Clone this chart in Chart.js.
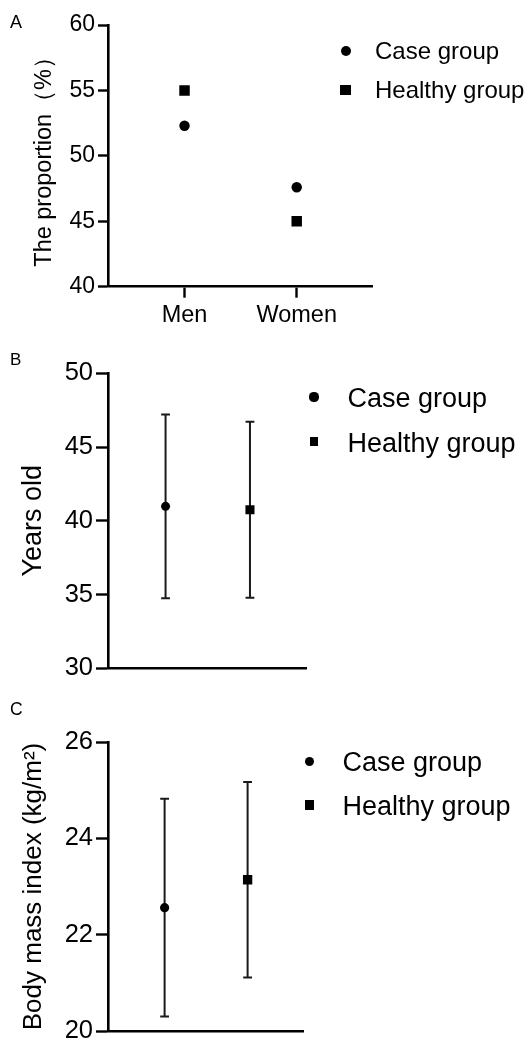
<!DOCTYPE html>
<html>
<head>
<meta charset="utf-8">
<script src="https://cdn.jsdelivr.net/npm/chart.js@4.4.1/dist/chart.umd.min.js"></script>
<style>
  body { margin: 0; background: #fff; font-family: "Liberation Sans", Arial, sans-serif; color: #000; }
  #page { position: relative; width: 531px; height: 1042px; overflow: hidden; background: #fff; }
  canvas { position: absolute; left: 0; }
  .tag { position: absolute; left: 10px; line-height: 1; }
  .lg-text { position: absolute; line-height: 1; white-space: nowrap; }
  .lg-mark { position: absolute; background: #000; }
</style>
</head>
<body>
<div id="page">
  <canvas id="chart-a" width="531" height="340" style="top:0px"></canvas>
  <canvas id="chart-b" width="531" height="340" style="top:340px"></canvas>
  <canvas id="chart-c" width="531" height="362" style="top:680px"></canvas>
  <div class="tag" style="top:12.6px;font-size:18px">A</div>
  <div class="tag" style="top:351px;font-size:17px">B</div>
  <div class="tag" style="top:701px;font-size:17.5px">C</div>
</div>
<script>
// ===== data =====
const groupNames  = ['Case group', 'Healthy group'];
const groupX      = [1, 2];

// A: proportion by sex (%)
const sexLabels   = ['Men', 'Women'];
const propCase    = [52.3, 47.6];
const propHealthy = [55.0, 45.0];

// B: age, mean ± SD
const ageMean = [40.98, 40.75];
const ageSd   = [6.23, 5.97];

// C: BMI, mean ± SD
const bmiMean = [22.56, 23.14];
const bmiSd   = [2.26, 2.03];

const FONT = 'Liberation Sans';
Chart.defaults.font.family = FONT;
Chart.defaults.color = '#000';

function pt(i, v) { return [{ x: groupX[i], y: v }]; }

function whisker(i, mean, sd) {
  return {
    data: [{ x: groupX[i], y: mean[i] - sd[i] }, { x: groupX[i], y: mean[i] + sd[i] }],
    showLine: true, borderColor: '#1a1a1a', borderWidth: 2,
    pointStyle: 'line', pointRadius: 4.4, pointBorderColor: '#1a1a1a', pointBorderWidth: 2,
    order: 2,
  };
}

function marker(data, style, r) {
  return { data, pointStyle: style, pointRadius: r, pointBackgroundColor: '#000', pointBorderWidth: 0, order: 1 };
}

function makeChart(id, o) {
  return new Chart(document.getElementById(id), {
    type: 'scatter',
    data: { datasets: o.datasets },
    options: {
      responsive: false, animation: false, events: [],
      layout: { padding: o.pad },
      plugins: { legend: { display: false }, tooltip: { enabled: false } },
      scales: {
        x: {
          type: 'linear', min: 0.318, max: 2.671,
          afterBuildTicks: s => { s.ticks = groupX.map(v => ({ value: v })); },
          afterFit: s => { s.height = o.xH; s.paddingLeft = 0; s.paddingRight = 0; },
          border: { color: '#000', width: 2.6 },
          grid: { drawOnChartArea: false, drawTicks: !!o.xLabels, tickLength: 11, tickWidth: 2.4, tickColor: '#000' },
          ticks: {
            display: !!o.xLabels, padding: 4, autoSkip: false, maxRotation: 0,
            font: { size: 23.5 },
            callback: v => o.xLabels ? o.xLabels[groupX.indexOf(v)] : '',
          },
        },
        y: {
          min: o.yMin, max: o.yMax,
          afterFit: s => { s.width = o.yW; s.paddingTop = 0; s.paddingBottom = 0; },
          border: { color: '#000', width: 2.6 },
          grid: { drawOnChartArea: false, tickLength: o.tick, tickWidth: 2.4, tickColor: '#000' },
          ticks: { stepSize: o.step, padding: 3, font: { size: o.tickSize } },
          title: { display: true, text: o.title, padding: 0, font: { size: o.titleSize } },
        },
      },
    },
  });
}

// Panel A
makeChart('chart-a', {
  datasets: [
    marker(sexLabels.map((_, i) => pt(i, propCase[i])[0]), 'circle', 5.2),
    marker(sexLabels.map((_, i) => pt(i, propHealthy[i])[0]), 'rect', 7.4),
  ],
  xLabels: sexLabels,
  pad: { left: 30, right: 159, top: 25, bottom: 0 },
  xH: 53.3, yW: 78, yMin: 40, yMax: 60, step: 5, tick: 10, tickSize: 23,
  title: 'The proportion（%）', titleSize: 23.5,
});

// Panel B
makeChart('chart-b', {
  datasets: [
    marker(pt(0, ageMean[0]), 'circle', 4.5),
    marker(pt(1, ageMean[1]), 'rect', 6.4),
    whisker(0, ageMean, ageSd),
    whisker(1, ageMean, ageSd),
  ],
  pad: { left: 17, right: 224.4, top: 33.3, bottom: 0 },
  xH: 11.7, yW: 91, yMin: 30, yMax: 50, step: 5, tick: 12, tickSize: 25.5,
  title: 'Years old', titleSize: 27,
});

// Panel C
makeChart('chart-c', {
  datasets: [
    marker(pt(0, bmiMean[0]), 'circle', 4.6),
    marker(pt(1, bmiMean[1]), 'rect', 6.6),
    whisker(0, bmiMean, bmiSd),
    whisker(1, bmiMean, bmiSd),
  ],
  pad: { left: 18, right: 227.7, top: 62, bottom: 0 },
  xH: 11, yW: 90, yMin: 20, yMax: 26, step: 2, tick: 12, tickSize: 25.5,
  title: 'Body mass index (kg/m²)', titleSize: 26,
});

// Legends (HTML, placed beside each panel)
const legends = [
  { mx: 345.7, tx: 375,   my: [50.5, 90],    ty: [39.3, 78.3],   size: 24, dot: 10,  sq: 10.5 },
  { mx: 314,   tx: 347.5, my: [397, 441.7],  ty: [384.8, 429.8], size: 27, dot: 9.2, sq: 8.6 },
  { mx: 309.4, tx: 342.5, my: [761.7, 805],  ty: [749.3, 792.6], size: 27, dot: 9.2, sq: 9.2 },
];
const page = document.getElementById('page');
legends.forEach(lg => {
  groupNames.forEach((name, i) => {
    const d = i === 0 ? lg.dot : lg.sq;
    const m = document.createElement('div');
    m.className = 'lg-mark';
    m.style.cssText = `left:${lg.mx - d / 2}px;top:${lg.my[i] - d / 2}px;width:${d}px;height:${d}px;` +
      (i === 0 ? 'border-radius:50%;' : '');
    page.appendChild(m);
    const t = document.createElement('div');
    t.className = 'lg-text';
    t.style.cssText = `left:${lg.tx}px;top:${lg.ty[i]}px;font-size:${lg.size}px;`;
    t.textContent = name;
    page.appendChild(t);
  });
});
</script>
</body>
</html>
